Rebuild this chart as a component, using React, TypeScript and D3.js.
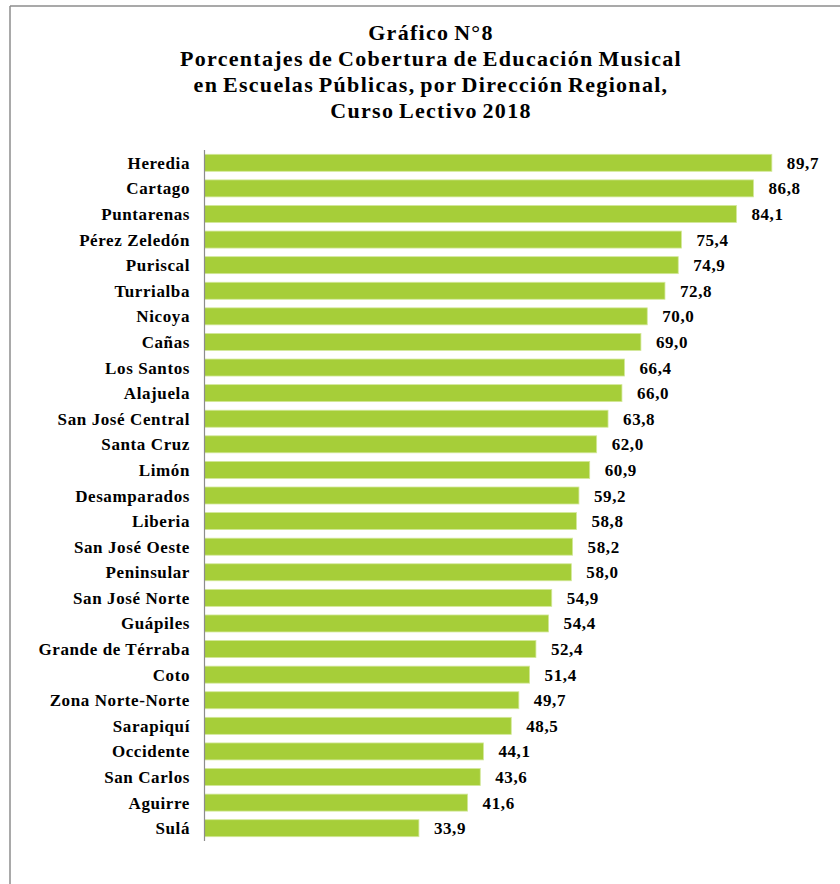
import React from "react";
import * as d3 from "d3";

const titleLines = [
  "Gráfico N°8",
  "Porcentajes de Cobertura de Educación Musical",
  "en Escuelas Públicas, por Dirección Regional,",
  "Curso Lectivo 2018",
];

const regions = [
  "Heredia", "Cartago", "Puntarenas", "Pérez Zeledón", "Puriscal", "Turrialba",
  "Nicoya", "Cañas", "Los Santos", "Alajuela", "San José Central", "Santa Cruz",
  "Limón", "Desamparados", "Liberia", "San José Oeste", "Peninsular",
  "San José Norte", "Guápiles", "Grande de Térraba", "Coto", "Zona Norte-Norte",
  "Sarapiquí", "Occidente", "San Carlos", "Aguirre", "Sulá",
];

const coverage = [
  89.7, 86.8, 84.1, 75.4, 74.9, 72.8, 70.0, 69.0, 66.4, 66.0, 63.8, 62.0, 60.9,
  59.2, 58.8, 58.2, 58.0, 54.9, 54.4, 52.4, 51.4, 49.7, 48.5, 44.1, 43.6, 41.6, 33.9,
];

const W = 840;
const H = 884;
const FONT = "'Liberation Serif', 'Times New Roman', serif";

export default function App() {
  const x = d3.scaleLinear().domain([0, 100]).range([204.5, 837]);
  const y = d3
    .scaleBand<string>()
    .domain(regions)
    .range([150, 841])
    .paddingInner(0.336)
    .paddingOuter(0.168);
  const fmt = (v: number) => d3.format(".1f")(v).replace(".", ",");
  const titleBaselines = [40, 66, 92, 118];

  return (
    <svg
      width={W}
      height={H}
      style={{ position: "absolute", left: 0, top: 0, background: "#fff" }}
    >
      <rect x={0} y={0} width={W} height={H} fill="#fff" />
      {/* frame */}
      <line x1={10} y1={6} x2={W} y2={6} stroke="#8c8c8c" strokeWidth={1.5} />
      <line x1={10} y1={6} x2={10} y2={H} stroke="#8c8c8c" strokeWidth={1.5} />

      {titleLines.map((t, i) => (
        <text
          key={i}
          x={431}
          y={titleBaselines[i]}
          textAnchor="middle"
          fontFamily={FONT}
          fontWeight="bold"
          fontSize={22}
          letterSpacing={1.3}
          wordSpacing={-2}
          fill="#000"
        >
          {t}
        </text>
      ))}

      {regions.map((r, i) => {
        const yy = y(r)!;
        const bh = y.bandwidth();
        const v = coverage[i];
        return (
          <g key={r}>
            <rect
              x={x(0)}
              y={yy}
              width={x(v) - x(0)}
              height={bh}
              fill="#a6ce39"
              stroke="#d3e89a"
              strokeWidth={0.8}
            />
            <text
              x={190}
              y={yy + bh / 2 + 6}
              textAnchor="end"
              fontFamily={FONT}
              fontWeight="bold"
              fontSize={17}
              letterSpacing={0.6}
              fill="#000"
            >
              {r}
            </text>
            <text
              x={x(v) + 15}
              y={yy + bh / 2 + 6}
              fontFamily={FONT}
              fontWeight="bold"
              fontSize={17}
              letterSpacing={0.6}
              fill="#000"
            >
              {fmt(v)}
            </text>
          </g>
        );
      })}

      {/* category axis line */}
      <line x1={x(0)} y1={150} x2={x(0)} y2={841} stroke="#8c8c8c" strokeWidth={1.2} />
    </svg>
  );
}
